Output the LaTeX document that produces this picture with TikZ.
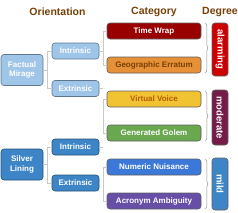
\documentclass[tikz,border=0pt]{standalone}
\usepackage{fontspec}
\setmainfont{Liberation Sans}
\usepackage{tikz}
\usetikzlibrary{positioning,decorations.pathreplacing}
\definecolor{Heading}{HTML}{783F04}
\definecolor{PaleBlue}{HTML}{9FC5E8}
\definecolor{MidBlue}{HTML}{3D85C6}
\definecolor{DarkRed}{HTML}{990000}
\definecolor{Red}{HTML}{CC0000}
\definecolor{Orange}{HTML}{E69138}
\definecolor{Brown}{HTML}{783F04}
\definecolor{Yellow}{HTML}{F1C232}
\definecolor{Amber}{HTML}{B45F06}
\definecolor{Green}{HTML}{6AA84F}
\definecolor{Cornflower}{HTML}{3C78D8}
\definecolor{Purple}{HTML}{674EA7}
\definecolor{Magenta}{HTML}{741B47}
\definecolor{Edge}{HTML}{5F5F5F}
\definecolor{Link}{HTML}{C9C9C9}
\tikzset{
  heading/.style={font=\fontsize{10.5}{12}\selectfont\bfseries, text=Heading},
  orientbox/.style={rounded corners=3pt, line width=0.6pt, inner sep=0pt, outer sep=0pt, minimum width=47pt, minimum height=16pt, font=\fontsize{8}{9.5}\selectfont\bfseries, text=white, align=center},
  rootbox/.style={orientbox, minimum width=42pt, minimum height=31pt},
  palebox/.style={fill=PaleBlue, draw=PaleBlue!60!black},
  bluebox/.style={fill=MidBlue, draw=MidBlue!60!black},
  catbox/.style={rounded corners=3pt, draw=Edge, line width=0.6pt, inner sep=0pt, outer sep=0pt, minimum width=94pt, minimum height=16pt, font=\fontsize{8}{9.5}\selectfont\bfseries, text=white},
  degbox/.style={rounded corners=3pt, draw=Edge, line width=0.6pt, inner sep=0pt, outer sep=0pt, minimum height=16pt, rotate=-90, font=\fontsize{9.5}{11}\selectfont\bfseries, text=white},
  link/.style={draw=Link, line width=0.8pt},
  bracket/.style={draw=black!45, line width=0.5pt, decorate, decoration={brace, amplitude=2.5pt}}
}
\begin{document}
\begin{tikzpicture}[x=1pt, y=-1pt]
  \useasboundingbox (0,0) rectangle (238,212);
  \node[heading] (horient) at (57.5,11.5) {Orientation};
  \node[heading] (hcat) at (154,11.5) {Category};
  \node[heading] (hdeg) at (220,11.5) {Degree};
  \node[rootbox, palebox] (mirage) at (22,70) {Factual\\Mirage};
  \node[orientbox, palebox] (mintr) at (75.5,51) {Intrinsic};
  \node[orientbox, palebox] (mextr) at (75.5,88.5) {Extrinsic};
  \node[rootbox, bluebox] (lining) at (22,164.5) {Silver\\Lining};
  \node[orientbox, bluebox] (lintr) at (75.5,147) {Intrinsic};
  \node[orientbox, bluebox] (lextr) at (75.5,183) {Extrinsic};
  \node[catbox, fill=DarkRed] (timewrap) at (154,31) {Time Wrap};
  \node[catbox, fill=Orange, text=Brown] (erratum) at (154,65) {Geographic Erratum};
  \node[catbox, fill=Yellow, text=Amber] (voice) at (154,99) {Virtual Voice};
  \node[catbox, fill=Green] (golem) at (154,133) {Generated Golem};
  \node[catbox, fill=Cornflower] (nuisance) at (154,167) {Numeric Nuisance};
  \node[catbox, fill=Purple] (acronym) at (154,201) {Acronym Ambiguity};
  \node[degbox, fill=Red, minimum width=53pt] (alarming) at (220,49.5) {alarming};
  \node[degbox, fill=Magenta, minimum width=55pt] (moderate) at (220,117.5) {moderate};
  \node[degbox, fill=MidBlue, minimum width=52pt] (mild) at (220,184) {mild};
  \draw[link] (mirage.east) -- ++(4.5,0);
  \draw[link] (mintr.west) -- ++(-4.5,0) |- (mextr.west);
  \draw[link] (lining.east) -- ++(4.5,0);
  \draw[link] (lintr.west) -- ++(-4.5,0) |- (lextr.west);
  \draw[link] (mintr.east) -- ++(4,0);
  \draw[link] (timewrap.west) -- ++(-4,0) |- (erratum.west);
  \draw[link] (mextr.east) -- ++(4,0);
  \draw[link] (voice.west) -- ++(-4,0) |- (golem.west);
  \draw[link] (lintr.east) -- ++(4,0);
  \draw[link] (nuisance.west) -- ++(-4,0) |- (acronym.west);
  \draw[bracket] ([xshift=4.5pt]timewrap.north east) -- ([xshift=4.5pt]erratum.south east);
  \draw[bracket] ([xshift=4.5pt]voice.north east) -- ([xshift=4.5pt]golem.south east);
  \draw[bracket] ([xshift=4.5pt]nuisance.north east) -- ([xshift=4.5pt]acronym.south east);
\end{tikzpicture}
\end{document}
